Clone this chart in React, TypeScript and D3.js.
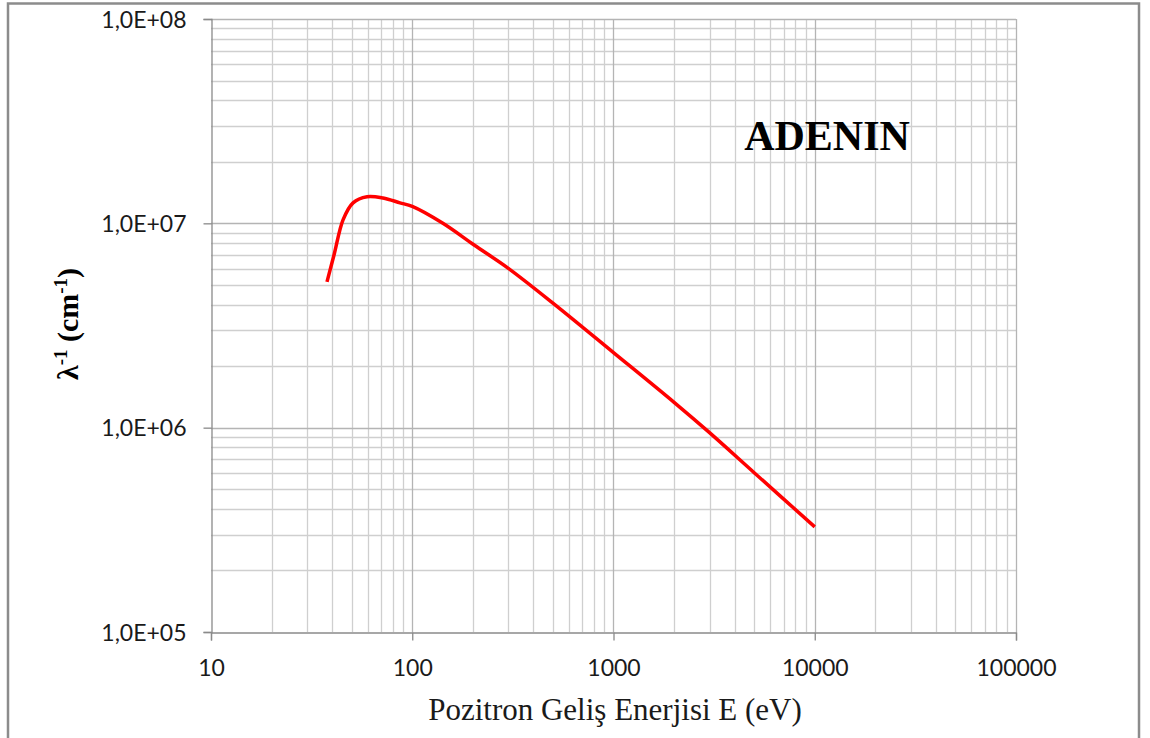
import React, { useRef, useEffect } from "react";
import * as d3 from "d3";

// positron energy (eV) and inverse mean free path (cm^-1)
const energy = [37.7, 41, 45.3, 50.8, 59.6, 71.6, 86.9, 100, 142, 203, 299, 500, 1000, 2000, 3000, 5000, 10000];
const invPath = [5.17e6, 7.1e6, 1.04e7, 1.26e7, 1.35e7, 1.33e7, 1.26e7, 1.21e7, 1.0e7, 7.83e6, 6.04e6, 4.07e6, 2.33e6, 1.33e6, 9.45e5, 6.02e5, 3.27e5];

const xTicks = [10, 100, 1000, 10000, 100000];
const yTicks = [1e5, 1e6, 1e7, 1e8];
const yTickLabels = ["1,0E+05", "1,0E+06", "1,0E+07", "1,0E+08"];

const App = () => {
  const svgRef = useRef<SVGSVGElement>(null);
  const W = 1150;
  const H = 738;

  useEffect(() => {
    const svg = d3.select(svgRef.current);
    svg.selectAll("*").remove();

    const left = 211, right = 1016, top = 19, bottom = 632;

    const x = d3.scaleLog().domain([10, 100000]).range([left, right]);
    const y = d3.scaleLog().domain([1e5, 1e8]).range([bottom, top]);

    // outer frame
    svg
      .append("rect")
      .attr("x", 8)
      .attr("y", 3.5)
      .attr("width", 1131)
      .attr("height", 760)
      .attr("fill", "white")
      .attr("stroke", "#8c8c8c")
      .attr("stroke-width", 2.5);

    // minor grid
    const minorX: number[] = [];
    for (let d = 10; d < 100000; d *= 10) for (let k = 2; k <= 9; k++) minorX.push(d * k);
    const minorY: number[] = [];
    for (let d = 1e5; d < 1e8; d *= 10) for (let k = 2; k <= 9; k++) minorY.push(d * k);

    const grid = svg.append("g");
    grid
      .selectAll(".mx")
      .data(minorX)
      .join("line")
      .attr("x1", (d) => Math.round(x(d)) + 0.5)
      .attr("x2", (d) => Math.round(x(d)) + 0.5)
      .attr("y1", top)
      .attr("y2", bottom)
      .attr("stroke", "#cfcfcf")
      .attr("stroke-width", 1.3);
    grid
      .selectAll(".my")
      .data(minorY)
      .join("line")
      .attr("y1", (d) => Math.round(y(d)) + 0.5)
      .attr("y2", (d) => Math.round(y(d)) + 0.5)
      .attr("x1", left)
      .attr("x2", right)
      .attr("stroke", "#cfcfcf")
      .attr("stroke-width", 1.3);
    // major grid
    grid
      .selectAll(".Mx")
      .data(xTicks.slice(1))
      .join("line")
      .attr("x1", (d) => Math.round(x(d)) + 0.5)
      .attr("x2", (d) => Math.round(x(d)) + 0.5)
      .attr("y1", top)
      .attr("y2", bottom)
      .attr("stroke", "#b4b4b4")
      .attr("stroke-width", 1.3);
    grid
      .selectAll(".My")
      .data(yTicks.slice(1))
      .join("line")
      .attr("y1", (d) => Math.round(y(d)) + 0.5)
      .attr("y2", (d) => Math.round(y(d)) + 0.5)
      .attr("x1", left)
      .attr("x2", right)
      .attr("stroke", "#b4b4b4")
      .attr("stroke-width", 1.3);

    // axes
    const xAxis = d3.axisBottom(x).tickValues(xTicks).tickSize(8).tickFormat((d) => `${d}`);
    const xg = svg.append("g").attr("transform", `translate(0,${bottom + 0.5})`).call(xAxis);
    xg.selectAll("path,line").attr("stroke", "#8a8a8a").attr("stroke-width", 1.3);
    xg.selectAll("text")
      .attr("dy", 0)
      .attr("y", 43)
      .attr("font-family", "Lato")
      .attr("font-size", 23)
      .attr("fill", "#1a1a1a");

    const yAxis = d3
      .axisLeft(y)
      .tickValues(yTicks)
      .tickSize(8)
      .tickFormat((d, i) => yTickLabels[i]);
    const yg = svg.append("g").attr("transform", `translate(${left + 0.5},0)`).call(yAxis);
    yg.selectAll("path,line").attr("stroke", "#8a8a8a").attr("stroke-width", 1.3);
    yg.selectAll("text")
      .attr("x", -25)
      .attr("dy", "0.35em")
      .attr("font-family", "Lato")
      .attr("font-size", 23)
      .attr("fill", "#1a1a1a");

    // the curve
    const line = d3
      .line<number>()
      .x((d, i) => x(energy[i]))
      .y((d) => y(d))
      .curve(d3.curveCatmullRom.alpha(0.5));
    svg
      .append("path")
      .datum(invPath)
      .attr("d", line)
      .attr("fill", "none")
      .attr("stroke", "#ff0000")
      .attr("stroke-width", 3.5)
      .attr("stroke-linejoin", "round");

    // labels
    svg
      .append("text")
      .attr("x", 827)
      .attr("y", 150)
      .attr("text-anchor", "middle")
      .attr("font-family", "Liberation Serif")
      .attr("font-weight", "bold")
      .attr("font-size", 42)
      .text("ADENIN");

    svg
      .append("text")
      .attr("x", 615)
      .attr("y", 720)
      .attr("text-anchor", "middle")
      .attr("font-family", "Liberation Serif")
      .attr("font-size", 31)
      .attr("fill", "#1a1a1a")
      .text("Pozitron Geliş Enerjisi E (eV)");

    const yl = svg
      .append("text")
      .attr("transform", "translate(78,324) rotate(-90)")
      .attr("text-anchor", "middle")
      .attr("font-family", "Liberation Serif")
      .attr("font-weight", "bold")
      .attr("font-size", 30);
    yl.append("tspan").text("λ");
    yl.append("tspan").attr("dy", -11).attr("font-size", 19).text("-1");
    yl.append("tspan").attr("dy", 11).text(" (cm");
    yl.append("tspan").attr("dy", -11).attr("font-size", 19).text("-1");
    yl.append("tspan").attr("dy", 11).text(")");
  }, []);

  return (
    <svg
      ref={svgRef}
      width={W}
      height={H}
      style={{ position: "absolute", left: 0, top: 0, background: "white" }}
    ></svg>
  );
};

export default App;
